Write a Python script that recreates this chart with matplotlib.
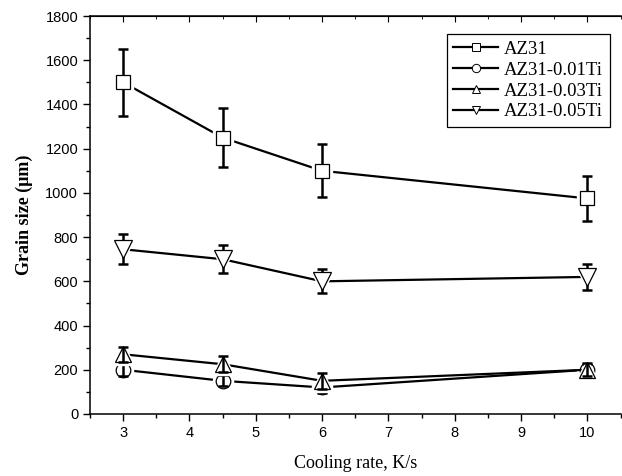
import matplotlib
matplotlib.use("Agg")
import matplotlib.pyplot as plt
from matplotlib.ticker import MultipleLocator

## DATA

cooling_rate = [3, 4.5, 6, 10]
series_names = ["AZ31", "AZ31-0.01Ti", "AZ31-0.03Ti", "AZ31-0.05Ti"]

az31 = [1500, 1250, 1100, 975]
az31_err = [150, 135, 120, 100]
ti001 = [200, 150, 120, 200]
ti001_err = [30, 25, 25, 25]
ti003 = [270, 225, 150, 200]
ti003_err = [35, 35, 35, 30]
ti005 = [745, 700, 600, 620]
ti005_err = [68, 63, 55, 58]

## PLOT

fig = plt.figure(figsize=(6.22, 4.76), dpi=100)
ax = fig.add_axes([0.1447, 0.1303, 0.853, 0.836])

serif = ["Liberation Serif", "DejaVu Serif"]
sans = ["Liberation Sans", "DejaVu Sans"]

# marker, size, whether the error bar shows over the marker
groups = [
    (az31, az31_err, "s", 10, False),
    (ti001, ti001_err, "o", 10.5, True),
    (ti003, ti003_err, "^", 12, True),
    (ti005, ti005_err, "v", 13, False),
]

handles = []
for i, ((vals, errs, mk, ms, bar_top), name) in enumerate(zip(groups, series_names)):
    z = 1 + i * 4
    # line first, then a white halo so the line stops short of the marker
    ax.plot(cooling_rate, vals, color="black", lw=1.6, zorder=z)
    ax.plot(cooling_rate, vals, ls="none", marker=mk, ms=ms + 4,
            mfc="white", mec="white", zorder=z + 1)
    ax.errorbar(cooling_rate, vals, yerr=errs, fmt="none", ecolor="black",
                elinewidth=1.8, capsize=3.5, capthick=1.8,
                zorder=z + 3 if bar_top else z + 2)
    ax.plot(cooling_rate, vals, ls="none", marker=mk, ms=ms,
            mfc="white", mec="black", mew=0.9,
            zorder=z + 2 if bar_top else z + 3)
    h, = ax.plot([], [], color="black", lw=1.6, marker=mk, ms=6,
                 mfc="white", mec="black", mew=0.7)
    handles.append(h)

ax.set_xlim(2.5, 10.5)
ax.set_ylim(0, 1800)
ax.xaxis.set_major_locator(MultipleLocator(1))
ax.xaxis.set_minor_locator(MultipleLocator(0.5))
ax.yaxis.set_major_locator(MultipleLocator(200))
ax.yaxis.set_minor_locator(MultipleLocator(100))
ax.set_xticks([3, 4, 5, 6, 7, 8, 9, 10])

ax.tick_params(axis="both", which="both", direction="out", labelsize=10.5,
               top=False, right=False)
ax.tick_params(which="major", length=5, width=1)
ax.tick_params(which="minor", length=3, width=1)
for lbl in ax.get_xticklabels() + ax.get_yticklabels():
    lbl.set_family(sans)

# inward ticks on the top spine
top = ax.secondary_xaxis("top")
top.xaxis.set_major_locator(MultipleLocator(1))
top.xaxis.set_minor_locator(MultipleLocator(0.5))
top.tick_params(which="both", direction="in", labeltop=False)
top.tick_params(which="major", length=4)
top.tick_params(which="minor", length=2.5)

for s in ["left", "bottom", "top"]:
    ax.spines[s].set_linewidth(1.1)
ax.spines["right"].set_visible(False)

ax.set_xlabel("Cooling rate, K/s", family=serif, fontsize=13, labelpad=11)
ax.set_ylabel("Grain size (\u03bcm)", family=serif, fontsize=13,
              fontweight="bold", labelpad=9)

leg = ax.legend(handles, series_names, loc="upper right",
                bbox_to_anchor=(0.997, 0.978), prop={"family": serif, "size": 13.5},
                fancybox=False, edgecolor="black", framealpha=1,
                handlelength=2.4, handletextpad=0.3, labelspacing=0.2,
                borderpad=0.35)
leg.get_frame().set_linewidth(0.9)
leg.set_zorder(30)

fig.savefig("out.png", dpi=100)
